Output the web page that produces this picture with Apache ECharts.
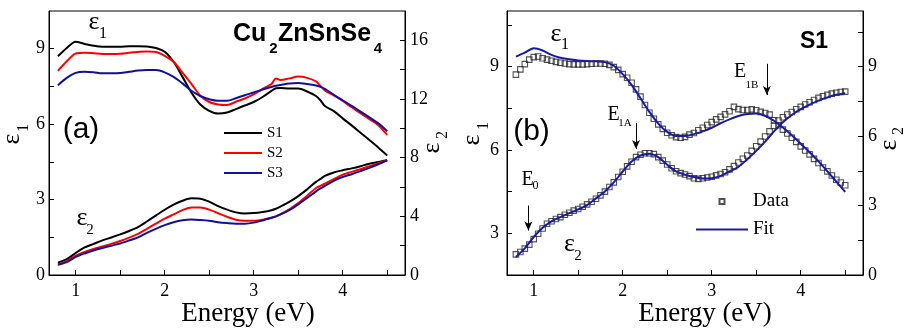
<!DOCTYPE html>
<html>
<head>
<meta charset="utf-8">
<script src="https://cdn.jsdelivr.net/npm/echarts@6/dist/echarts.min.js"></script>
<style>html,body{margin:0;padding:0;background:#fff;}#c{width:904px;height:334px;}</style>
</head>
<body>
<div id="c"></div>
<script>
// ---------- Panel (a) data ----------
const energyA = [0.8,0.9,1.0,1.1,1.2,1.3,1.4,1.5,1.6,1.7,1.8,1.9,2.0,2.1,2.2,2.3,2.4,2.5,2.6,2.7,2.8,2.9,3.0,3.1,3.2,3.25,3.3,3.4,3.5,3.6,3.7,3.75,3.8,3.9,4.0,4.1,4.2,4.3,4.4,4.5];
const s1Eps1 = [8.70,9.03,9.28,9.19,9.12,9.08,9.08,9.08,9.10,9.10,9.09,9.03,8.88,8.48,7.88,7.26,6.78,6.53,6.42,6.46,6.60,6.74,6.88,7.08,7.32,7.43,7.44,7.42,7.42,7.30,7.12,6.95,6.72,6.52,6.23,5.95,5.66,5.37,5.07,4.75];
const s2Eps1 = [8.12,8.50,8.81,8.84,8.82,8.79,8.79,8.80,8.84,8.87,8.89,8.87,8.72,8.48,8.05,7.60,7.13,6.88,6.78,6.76,6.89,7.02,7.18,7.40,7.60,7.82,7.76,7.82,7.89,7.84,7.70,7.52,7.34,7.14,6.92,6.67,6.44,6.20,5.96,5.57];
const s3Eps1 = [7.55,7.84,8.04,8.08,8.06,8.02,8.02,8.03,8.08,8.13,8.15,8.15,8.06,7.88,7.62,7.33,7.12,6.99,6.93,6.93,7.03,7.15,7.26,7.38,7.48,7.53,7.56,7.62,7.64,7.60,7.54,7.48,7.40,7.17,6.95,6.73,6.50,6.27,6.03,5.72];
const s1Eps2 = [0.84,1.08,1.50,1.88,2.12,2.36,2.56,2.77,3.00,3.27,3.65,4.05,4.45,4.80,5.06,5.23,5.20,5.00,4.70,4.46,4.27,4.19,4.22,4.30,4.42,4.52,4.66,4.98,5.38,5.84,6.35,6.55,6.76,6.99,7.14,7.27,7.42,7.59,7.70,7.84];
const s2Eps2 = [0.72,0.96,1.32,1.58,1.78,1.95,2.12,2.32,2.55,2.80,3.15,3.50,3.84,4.13,4.42,4.60,4.60,4.46,4.21,3.97,3.77,3.70,3.70,3.77,3.90,4.00,4.14,4.47,4.90,5.40,5.93,6.08,6.23,6.54,6.84,7.03,7.22,7.41,7.62,7.83];
const s3Eps2 = [0.70,0.88,1.23,1.47,1.67,1.84,2.00,2.15,2.35,2.57,2.87,3.15,3.40,3.60,3.73,3.78,3.75,3.70,3.60,3.54,3.50,3.50,3.57,3.72,3.90,4.00,4.13,4.42,4.82,5.25,5.70,5.90,6.08,6.42,6.68,6.87,7.08,7.30,7.55,7.82];

// ---------- Panel (b) data ----------
const energyB = [0.80,0.85,0.90,0.95,1.00,1.05,1.10,1.15,1.20,1.25,1.30,1.35,1.40,1.45,1.50,1.55,1.60,1.65,1.70,1.75,1.80,1.85,1.90,1.95,2.00,2.05,2.10,2.15,2.20,2.25,2.30,2.35,2.40,2.45,2.50,2.55,2.60,2.65,2.70,2.75,2.80,2.85,2.90,2.95,3.00,3.05,3.10,3.15,3.20,3.25,3.30,3.35,3.40,3.45,3.50,3.55,3.60,3.65,3.70,3.75,3.80,3.85,3.90,3.95,4.00,4.05,4.10,4.15,4.20,4.25,4.30,4.35,4.40,4.45,4.50];
const dataEps1 = [8.71,8.90,9.09,9.25,9.34,9.36,9.30,9.25,9.21,9.17,9.14,9.11,9.09,9.08,9.08,9.08,9.09,9.10,9.11,9.11,9.10,9.06,8.98,8.88,8.73,8.60,8.42,8.18,7.92,7.62,7.34,7.12,6.92,6.76,6.62,6.53,6.46,6.44,6.47,6.55,6.61,6.71,6.80,6.90,7.00,7.10,7.19,7.28,7.39,7.55,7.47,7.44,7.44,7.46,7.43,7.37,7.33,7.27,7.07,6.89,6.73,6.59,6.44,6.29,6.13,5.98,5.84,5.68,5.53,5.37,5.23,5.08,4.93,4.83,4.73];
const dataEps2 = [0.89,0.99,1.14,1.31,1.55,1.78,2.01,2.21,2.32,2.42,2.50,2.60,2.69,2.78,2.85,2.95,3.05,3.16,3.29,3.44,3.60,3.80,4.00,4.23,4.46,4.69,4.89,5.09,5.19,5.26,5.26,5.22,5.09,4.94,4.77,4.61,4.48,4.40,4.34,4.27,4.18,4.15,4.18,4.21,4.24,4.30,4.36,4.44,4.56,4.70,4.86,5.02,5.16,5.36,5.56,5.76,5.98,6.20,6.44,6.67,6.81,6.93,7.04,7.16,7.26,7.36,7.46,7.56,7.65,7.72,7.78,7.83,7.87,7.90,7.92];
const energyFit = [0.8,0.9,1.0,1.1,1.2,1.3,1.4,1.5,1.6,1.7,1.8,1.9,2.0,2.1,2.2,2.3,2.4,2.5,2.6,2.7,2.8,2.9,3.0,3.1,3.2,3.3,3.4,3.5,3.6,3.7,3.8,3.9,4.0,4.1,4.2,4.3,4.4,4.5];
const fitEps1 = [9.36,9.50,9.66,9.58,9.42,9.32,9.26,9.22,9.20,9.19,9.16,9.03,8.73,8.34,7.86,7.37,6.95,6.65,6.50,6.50,6.57,6.67,6.80,6.96,7.10,7.22,7.29,7.31,7.23,7.05,6.81,6.53,6.22,5.92,5.59,5.23,4.86,4.49];
const fitEps2 = [0.78,1.15,1.64,2.04,2.32,2.50,2.67,2.83,3.02,3.31,3.61,4.00,4.47,4.90,5.16,5.24,5.09,4.76,4.47,4.33,4.23,4.17,4.18,4.28,4.47,4.67,5.00,5.36,5.76,6.20,6.60,6.91,7.16,7.36,7.53,7.67,7.78,7.85];

// transition arrows (energy, top value, tip value) on eps1 axis of panel (b)
const arrowNames = ['E0','E1A','E1B'];
const arrowX = [0.94, 2.15, 3.62];
const arrowTop = [4.00, 6.97, 9.10];
const arrowTip = [3.10, 6.03, 7.98];

// ---------- ticks ----------
const xTicks = [1,1.5,2,2.5,3,3.5,4,4.5];
const xLabels = [1,2,3,4];
const aLeftTicks = [1.5,3,4.5,6,7.5,9];
const aLeftLabels = [0,3,6,9];
const aRightTicks = [2,4,6,8,10,12,14,16];
const aRightLabels = [0,4,8,12,16];
const bLeftTicks = [3,4.5,6,7.5,9,10.5];
const bLeftLabels = [3,6,9];
const bRightTicks = [1.5,3,4.5,6,7.5,9,10.5];
const bRightLabels = [0,3,6,9];

const zip = (xs, ys) => xs.map((x, i) => [x, ys[i]]);
const SERIF = '"Liberation Serif", "Times New Roman", serif';
const SANS = '"Liberation Sans", Arial, sans-serif';
const BLUE = '#1010a0';
const FITBLUE = '#1a1aa8';

function xAxis(grid) {
  return {
    type: 'value', gridIndex: grid, min: 0.7, max: 4.7,
    axisLine: {show: true, lineStyle: {color: '#000', width: 1}},
    axisTick: {show: true, inside: true, length: 5, customValues: xTicks, lineStyle: {color: '#000'}},
    axisLabel: {customValues: xLabels, color: '#000', fontFamily: SERIF, fontSize: 18, margin: 7},
    splitLine: {show: false}
  };
}
function yAxis(grid, pos, min, max, ticks, labels, margin) {
  return {
    type: 'value', gridIndex: grid, position: pos, min: min, max: max,
    axisLine: {show: true, onZero: false, lineStyle: {color: '#000', width: 1}},
    axisTick: {show: true, inside: true, length: 5, customValues: ticks, lineStyle: {color: '#000'}},
    axisLabel: {customValues: labels, color: '#000', fontFamily: SERIF, fontSize: 18, margin: margin},
    splitLine: {show: false}
  };
}
function lineSeries(name, xi, yi, xs, ys, color) {
  return {
    name: name, type: 'line', xAxisIndex: xi, yAxisIndex: yi, data: zip(xs, ys),
    symbol: 'none', showSymbol: false, smooth: 0.3, color: color,
    lineStyle: {color: color, width: 2}
  };
}
function txt(x, y, text, font, extra) {
  return Object.assign({
    type: 'text', x: x, y: y, silent: true,
    style: {text: text, font: font, fill: '#000', align: 'center', verticalAlign: 'middle'}
  }, extra || {});
}
function ltxt(x, y, text, font) {
  return {
    type: 'text', x: x, y: y, silent: true,
    style: {text: text, font: font, fill: '#000', align: 'left', verticalAlign: 'middle'}
  };
}
function rtxt(x, y, text, font) {
  return txt(x, y, text, font, {rotation: Math.PI / 2});
}

const arrowData = arrowX.map((x, i) => [
  {coord: [x, arrowTop[i]], name: arrowNames[i]},
  {coord: [x, arrowTip[i]]}
]);

const hiddenMark = {opacity: 0};
const squareStyle = {color: 'rgba(255,255,255,0)', borderColor: '#262626', borderWidth: 1.1};

const option = {
  animation: false,
  backgroundColor: '#fff',
  grid: [
    {left: 49, top: 11, width: 356, height: 264, show: true, borderColor: '#000', borderWidth: 1, backgroundColor: 'transparent'},
    {left: 507, top: 11, width: 356, height: 264, show: true, borderColor: '#000', borderWidth: 1, backgroundColor: 'transparent'}
  ],
  xAxis: [xAxis(0), xAxis(1)],
  yAxis: [
    yAxis(0, 'left', 0, 10.5, aLeftTicks, aLeftLabels, 4),
    yAxis(0, 'right', 0, 18, aRightTicks, aRightLabels, 5),
    yAxis(1, 'left', 1.5, 11, bLeftTicks, bLeftLabels, 8),
    yAxis(1, 'right', 0, 11.4, bRightTicks, bRightLabels, 5)
  ],
  legend: [
    {
      data: [
        {name: 'S1', itemStyle: hiddenMark},
        {name: 'S2', itemStyle: hiddenMark},
        {name: 'S3', itemStyle: hiddenMark}
      ],
      orient: 'vertical', left: 223, top: 125.5, itemWidth: 38, itemHeight: 14,
      itemGap: 5, selectedMode: false, padding: 0,
      textStyle: {fontFamily: SERIF, fontSize: 15, color: '#000'}
    },
    {
      data: [
        {name: 'Data', icon: 'path://M0,0L5,0L5,5L0,5Z'},
        {name: 'Fit', itemStyle: hiddenMark}
      ],
      orient: 'vertical', left: 695, top: 192, itemWidth: 52, itemHeight: 5,
      itemGap: 9, selectedMode: false, padding: 0,
      textStyle: {fontFamily: SERIF, fontSize: 19, color: '#000'}
    }
  ],
  series: [
    lineSeries('S1', 0, 0, energyA, s1Eps1, '#000000'),
    lineSeries('S2', 0, 0, energyA, s2Eps1, '#ff0000'),
    lineSeries('S3', 0, 0, energyA, s3Eps1, BLUE),
    lineSeries('S1', 0, 1, energyA, s1Eps2, '#000000'),
    lineSeries('S2', 0, 1, energyA, s2Eps2, '#ff0000'),
    lineSeries('S3', 0, 1, energyA, s3Eps2, BLUE),
    {
      name: 'Data', type: 'scatter', xAxisIndex: 1, yAxisIndex: 2, data: zip(energyB, dataEps1),
      symbol: 'rect', symbolSize: 5.5, itemStyle: squareStyle
    },
    {
      name: 'Data', type: 'scatter', xAxisIndex: 1, yAxisIndex: 3, data: zip(energyB, dataEps2),
      symbol: 'rect', symbolSize: 5.5, itemStyle: squareStyle
    },
    Object.assign(lineSeries('Fit', 1, 2, energyFit, fitEps1, FITBLUE), {
      markLine: {
        silent: true, symbol: ['none', 'arrow'], symbolSize: [6, 9],
        label: {show: false},
        lineStyle: {color: '#000', width: 1, type: 'solid'},
        emphasis: {disabled: true},
        data: arrowData
      }
    }),
    lineSeries('Fit', 1, 3, energyFit, fitEps2, FITBLUE)
  ],
  graphic: [
    // panel (a)
    txt(94, 22, 'ε', '26px ' + SERIF),
    txt(103, 34, '1', '16px ' + SERIF),
    txt(82, 218, 'ε', '26px ' + SERIF),
    txt(90, 230, '2', '15px ' + SERIF),
    txt(81, 130, '(a)', '30px ' + SANS),
    ltxt(233, 34, 'Cu', 'bold 25px ' + SANS),
    txt(273.5, 49, '2', 'bold 15px ' + SANS),
    ltxt(278, 34, 'ZnSnSe', 'bold 25px ' + SANS),
    txt(378, 49, '4', 'bold 15px ' + SANS),
    txt(248, 314, 'Energy (eV)', '27px ' + SERIF),
    rtxt(12, 139, 'ε', '26px ' + SERIF),
    rtxt(24, 128, '1', '16px ' + SERIF),
    rtxt(432, 148, 'ε', '26px ' + SERIF),
    rtxt(443, 135, '2', '16px ' + SERIF),
    // panel (b)
    txt(814, 41.5, 'S1', 'bold 23px ' + SANS),
    txt(531.5, 132, '(b)', '30px ' + SANS),
    txt(556, 34.5, 'ε', '26px ' + SERIF),
    txt(565, 45, '1', '16px ' + SERIF),
    txt(569.5, 244.5, 'ε', '26px ' + SERIF),
    txt(578, 256, '2', '15px ' + SERIF),
    txt(527.5, 179.5, 'E', '20px ' + SERIF),
    txt(535.5, 186, '0', '12px ' + SERIF),
    txt(613.5, 115, 'E', '20px ' + SERIF),
    txt(625, 123.5, '1A', '11px ' + SERIF),
    txt(740, 71.5, 'E', '20px ' + SERIF),
    txt(752, 85, '1B', '11px ' + SERIF),
    txt(705, 314, 'Energy (eV)', '27px ' + SERIF),
    rtxt(472, 140, 'ε', '26px ' + SERIF),
    rtxt(484, 126, '1', '16px ' + SERIF),
    rtxt(889, 145, 'ε', '26px ' + SERIF),
    rtxt(899, 131, '2', '16px ' + SERIF)
  ]
};

const chart = echarts.init(document.getElementById('c'), null, {renderer: 'canvas'});
chart.setOption(option);
</script>
</body>
</html>
